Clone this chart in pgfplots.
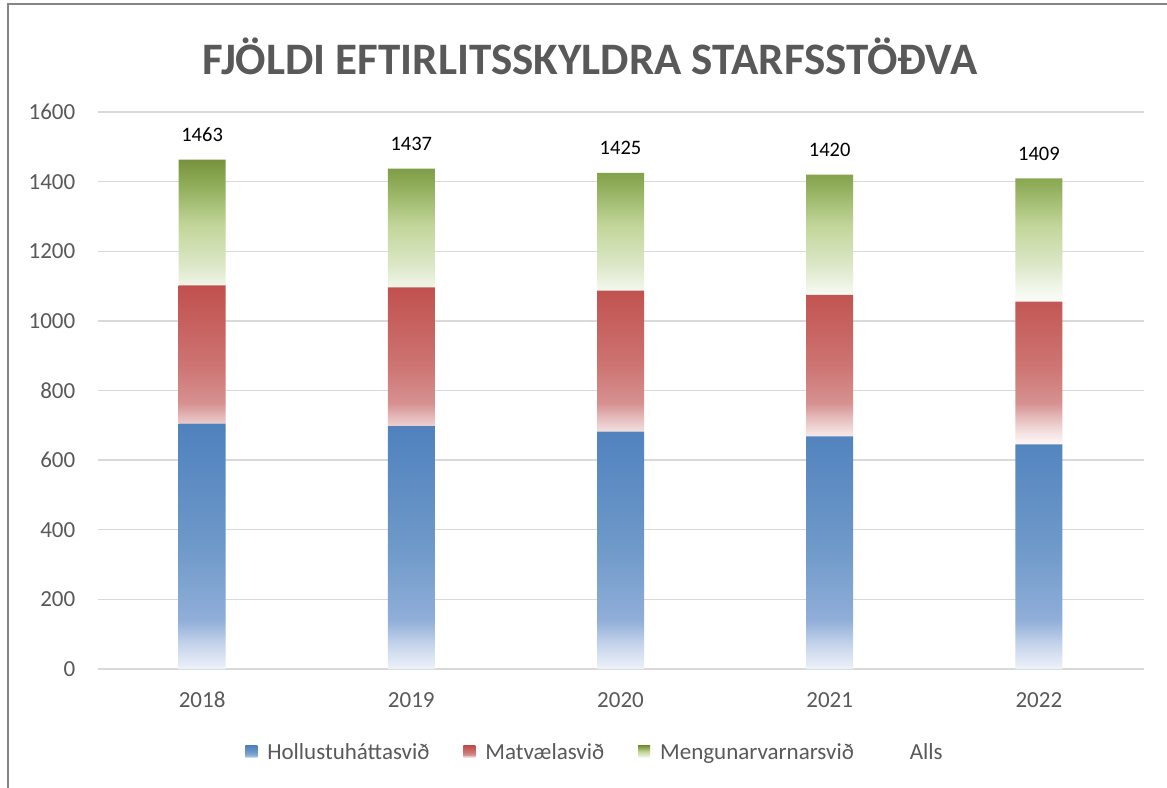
\documentclass[border=0pt]{standalone}
\usepackage{fontspec}
\setmainfont{Carlito}
\usepackage{pgfplots}
\usepackage{pgfplotstable}
\pgfplotsset{compat=1.18}

\definecolor{tickgray}{HTML}{595959}
\definecolor{titlegray}{HTML}{595959}
\definecolor{framegray}{HTML}{858585}
\definecolor{gridgray}{HTML}{D9D9D9}

\definecolor{bA}{HTML}{EEF2F9}
\definecolor{bB}{HTML}{C5D4EB}
\definecolor{bC}{HTML}{90AED8}
\definecolor{bD}{HTML}{6E99C9}
\definecolor{bE}{HTML}{4F81BD}

\definecolor{rA}{HTML}{FDF8F8}
\definecolor{rB}{HTML}{F5E3E3}
\definecolor{rC}{HTML}{E5BBBB}
\definecolor{rD}{HTML}{D69190}
\definecolor{rE}{HTML}{CD7472}
\definecolor{rF}{HTML}{C0504D}

\definecolor{gA}{HTML}{FBFDF8}
\definecolor{gB}{HTML}{F1F6E9}
\definecolor{gC}{HTML}{DCE7C7}
\definecolor{gD}{HTML}{C3D69B}
\definecolor{gE}{HTML}{93B05E}
\definecolor{gF}{HTML}{77933C}

\pgfdeclareverticalshading{blueshade}{100bp}{color(0bp)=(bA); color(25bp)=(bA); color(30bp)=(bB); color(35bp)=(bC); color(50bp)=(bD); color(75bp)=(bE); color(100bp)=(bE)}
\pgfdeclareverticalshading{redshade}{100bp}{color(0bp)=(rA); color(25bp)=(rA); color(28.5bp)=(rB); color(33.5bp)=(rC); color(38bp)=(rD); color(50bp)=(rE); color(75bp)=(rF); color(100bp)=(rF)}
\pgfdeclareverticalshading{greenshade}{100bp}{color(0bp)=(gA); color(25bp)=(gA); color(30bp)=(gB); color(38bp)=(gC); color(51.5bp)=(gD); color(65bp)=(gE); color(75bp)=(gF); color(100bp)=(gF)}

\pgfplotstableread{
x holl matv meng cap alls
0 705 397 361 0.01 1463
1 698 398 341 0.01 1437
2 682 405 338 0.01 1425
3 668 407 345 0.01 1420
4 645 410 354 0.01 1409
}\datatable

\begin{document}
\begin{tikzpicture}[x=1pt,y=1pt]
\useasboundingbox (0,0) rectangle (1167,787);
\fill[white] (0,0) rectangle (1167,787);
\draw[color=framegray, line width=1.6pt] (8,-2) -- (8,783) -- (1169,783);
\node[font=\fontsize{45}{50}\selectfont\bfseries, text=titlegray] at (590,731) {FJÖLDI EFTIRLITSSKYLDRA STARFSSTÖÐVA};
\begin{axis}[
  at={(97.5pt,118pt)}, anchor=south west,
  scale only axis, width=1046pt, height=557pt,
  ybar stacked, bar width=47pt,
  xmin=-0.5, xmax=4.5, ymin=0, ymax=1600,
  enlargelimits=false,
  xtick=data, xticklabels={2018,2019,2020,2021,2022},
  ytick={0,200,...,1600},
  axis line style={draw=none},
  major tick length=0pt,
  ymajorgrids, major grid style={draw=gridgray, line width=1.3pt},
  /pgf/number format/assume math mode=true,
  /pgf/number format/1000 sep={},
  ticklabel style={font=\fontsize{23}{26}\selectfont, text=tickgray},
  yticklabel style={inner sep=0pt, xshift=-22pt},
  xticklabel style={inner sep=0pt, yshift=-23pt},
  legend columns=-1,
  legend style={at={(axis description cs:0.4756,-0.149)}, anchor=center,
    draw=none, fill=none, font=\fontsize{23}{26}\selectfont, text=tickgray,
    /tikz/every odd column/.append style={column sep=8pt},
    /tikz/every even column/.append style={column sep=32pt}},
  legend image code/.code={\path[#1] (0pt,-6pt) rectangle (12pt,6pt);},
]
\addplot[draw=none, shading=blueshade, shade] table[x=x, y=holl] \datatable;
\addlegendentry{Hollustuháttasvið}
\addplot[draw=none, shading=redshade, shade] table[x=x, y=matv] \datatable;
\addlegendentry{Matvælasvið}
\addplot[draw=none, shading=greenshade, shade] table[x=x, y=meng] \datatable;
\addlegendentry{Mengunarvarnarsvið}
\addplot[draw=none, fill=none,
  point meta=explicit, nodes near coords,
  every node near coord/.append style={font=\fontsize{20.5}{24}\selectfont, text=black, anchor=south, inner sep=0pt, yshift=18pt},
  legend image code/.code={\path (0pt,0pt) rectangle (12pt,0pt);}]
  table[x=x, y=cap, meta=alls] \datatable;
\addlegendentry{Alls}
\end{axis}
\end{tikzpicture}
\end{document}
